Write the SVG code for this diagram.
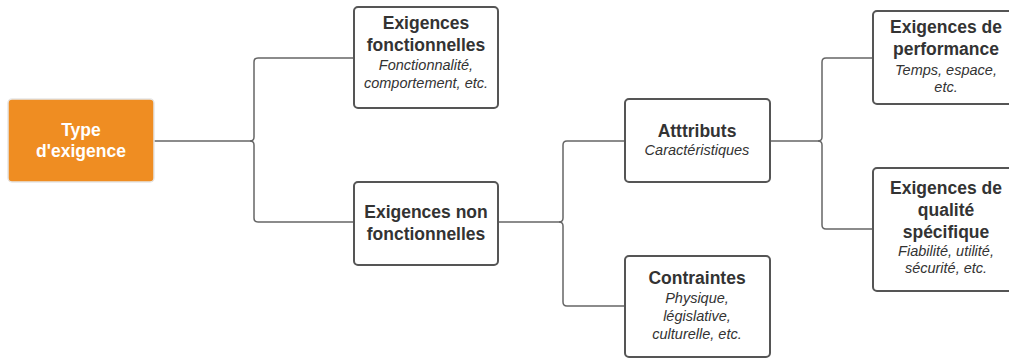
<svg xmlns="http://www.w3.org/2000/svg" width="1009" height="358" viewBox="0 0 1009 358">
<style>
.box{fill:#fff;stroke:#555;stroke-width:2}
.t{font-family:"Liberation Sans",Arial,sans-serif;font-size:17.5px;font-weight:bold;fill:#333;text-anchor:middle}
.i{font-family:"Liberation Sans",Arial,sans-serif;font-size:14.5px;font-style:italic;fill:#333;text-anchor:middle}
.c{fill:none;stroke:#666;stroke-width:1.5}
</style>
<rect width="1009" height="358" fill="#fff"/>
<g id="connectors">
<path class="c" d="M153,141 H250 q4,0 4,-4 V62 q0,-4 4,-4 H354"/>
<path class="c" d="M250,141 q4,0 4,4 V218 q0,4 4,4 H354"/>
<path class="c" d="M498,222 H559 q4,0 4,-4 V145 q0,-4 4,-4 H625"/>
<path class="c" d="M559,222 q4,0 4,4 V302 q0,4 4,4 H625"/>
<path class="c" d="M770,141 H818 q4,0 4,-4 V62 q0,-4 4,-4 H873"/>
<path class="c" d="M818,141 q4,0 4,4 V225 q0,4 4,4 H873"/>
</g>
<g id="root">
<rect x="8" y="99" width="146" height="83" rx="4" fill="#ef8d22" stroke="#e6e6e6" stroke-width="1.5"/>
<text class="t" x="81" y="136" style="fill:#fff">Type</text>
<text class="t" x="81" y="157" style="fill:#fff">d'exigence</text>
</g>
<g id="fonctionnelles">
<rect class="box" x="354" y="7" width="144" height="101" rx="4"/>
<text class="t" x="426" y="29">Exigences</text>
<text class="t" x="426" y="51">fonctionnelles</text>
<text class="i" x="426" y="70">Fonctionnalité,</text>
<text class="i" x="426" y="88">comportement, etc.</text>
</g>
<g id="nonfonctionnelles">
<rect class="box" x="354" y="182" width="144" height="83" rx="4"/>
<text class="t" x="426" y="218">Exigences non</text>
<text class="t" x="426" y="240">fonctionnelles</text>
</g>
<g id="attributs">
<rect class="box" x="625" y="99" width="145" height="83" rx="4"/>
<text class="t" x="697" y="137">Atttributs</text>
<text class="i" x="697" y="155">Caractéristiques</text>
</g>
<g id="contraintes">
<rect class="box" x="625" y="256" width="145" height="101" rx="4"/>
<text class="t" x="697" y="284">Contraintes</text>
<text class="i" x="697" y="303">Physique,</text>
<text class="i" x="697" y="321">législative,</text>
<text class="i" x="697" y="339">culturelle, etc.</text>
</g>
<g id="performance">
<rect class="box" x="873" y="11" width="146" height="93" rx="4"/>
<text class="t" x="946" y="33">Exigences de</text>
<text class="t" x="946" y="55">performance</text>
<text class="i" x="946" y="75">Temps, espace,</text>
<text class="i" x="946" y="92">etc.</text>
</g>
<g id="qualite">
<rect class="box" x="873" y="168" width="146" height="123" rx="4"/>
<text class="t" x="946" y="194">Exigences de</text>
<text class="t" x="946" y="216">qualité</text>
<text class="t" x="946" y="238">spécifique</text>
<text class="i" x="946" y="256">Fiabilité, utilité,</text>
<text class="i" x="946" y="273">sécurité, etc.</text>
</g>
</svg>
